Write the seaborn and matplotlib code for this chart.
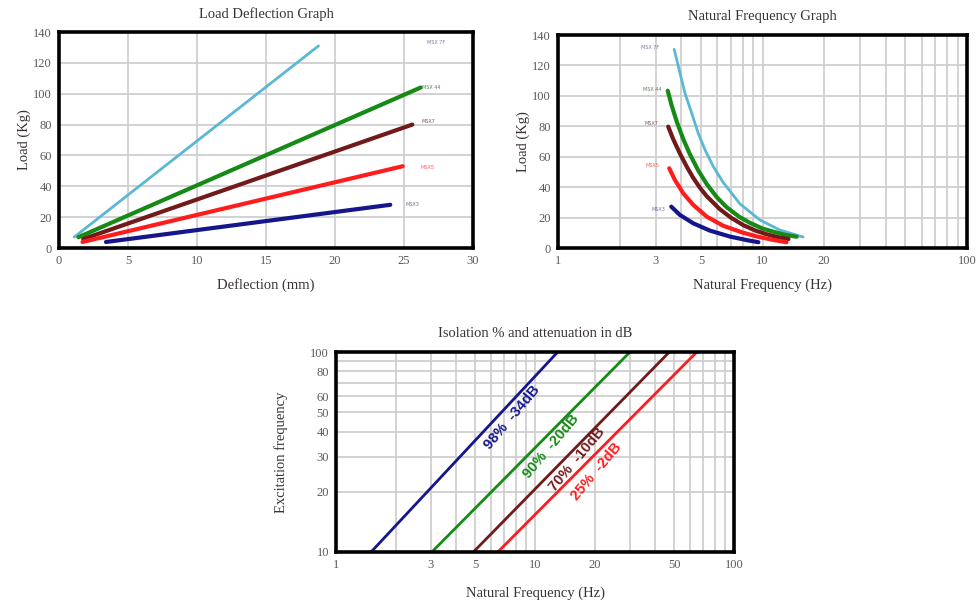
import numpy as np
import pandas as pd
import matplotlib
matplotlib.use("Agg")
import matplotlib.pyplot as plt
from matplotlib.ticker import FixedLocator, NullFormatter, LogLocator
import seaborn as sns

sns.set_theme(style="white")
plt.rcParams["font.family"] = ["Liberation Serif", "DejaVu Serif"]

# ---- series data -------------------------------------------------------
models = ["MSX 7F", "MSX 44", "MSX7", "MSX5", "MSX3"]
colors = ["#5bb8d4", "#168a16", "#721a1a", "#ff1c1c", "#16168c"]
label_colors = ["#6f7d9c", "#5d7d5d", "#7d5555", "#ff5a5a", "#6a7096"]
widths = [2.0, 3.0, 3.0, 3.0, 3.0]

# load vs deflection (start / end of each straight spring line)
deflection_mm = [[1.1, 18.8], [1.4, 26.2], [1.75, 25.6], [1.7, 24.9], [3.4, 24.0]]
load_kg = [[7.1, 131.0], [7.0, 104.0], [5.8, 80.0], [3.9, 53.0], [3.9, 28.0]]

# load vs natural frequency curves
nat_freq_hz = [
    [3.70, 3.95, 4.18, 4.51, 4.85, 5.24, 5.75, 6.43, 7.76, 9.72, 12.18, 15.8],
    [3.44, 3.60, 3.81, 4.10, 4.42, 4.85, 5.34, 5.97, 6.68, 7.70, 8.69, 10.0, 11.3, 13.0, 14.7],
    [3.46, 3.66, 3.95, 4.26, 4.59, 4.95, 5.34, 6.19, 7.00, 8.06, 9.30, 10.5, 12.0, 13.4],
    [3.50, 3.73, 4.10, 4.59, 5.34, 6.43, 8.06, 9.37, 11.2, 13.1],
    [3.58, 3.95, 4.59, 5.54, 6.94, 8.52, 9.55],
]
nat_load_kg = [
    [130.6, 114.9, 101.7, 88.5, 75.4, 64.4, 53.5, 43.0, 29.0, 18.4, 11.8, 7.2],
    [103.4, 93.5, 83.0, 71.5, 61.5, 51.0, 42.0, 33.5, 26.8, 20.5, 16.5, 12.8, 10.7, 8.6, 7.4],
    [79.8, 71.5, 62.0, 53.5, 46.0, 39.5, 34.0, 25.5, 20.0, 15.0, 11.3, 9.0, 7.0, 5.9],
    [52.4, 44.7, 35.9, 28.3, 20.6, 14.6, 10.0, 7.6, 5.4, 3.8],
    [27.2, 21.7, 16.2, 11.4, 7.5, 5.0, 3.8],
]

# isolation lines: natural frequency at excitation 10 Hz and 100 Hz
iso_labels = ["98%  -34dB", "90%  -20dB", "70%  -10dB", "25%  -2dB"]
iso_colors = ["#16168c", "#168a16", "#721a1a", "#ff1c1c"]
iso_fn = [[1.5, 13.0], [3.03, 30.0], [4.9, 47.3], [6.5, 65.0]]
iso_excitation = [10, 100]
iso_text_pos = [(7.7, 47.3), (12.1, 33.6), (16.2, 28.9), (20.4, 25.2)]

TEXT = "#3a3333"
TICK = "#5a5a5a"
GRID = "#cfcfcf"


def style_axes(ax):
    for sp in ax.spines.values():
        sp.set_visible(True)
        sp.set_color("black")
        sp.set_linewidth(2.6)
        sp.set_zorder(5)
    ax.tick_params(axis="both", which="both", length=0, labelsize=9,
                   labelcolor=TICK, pad=5)
    ax.set_facecolor("white")


fig = plt.figure(figsize=(9.76, 6.04), dpi=100)

# ---- Load Deflection Graph ---------------------------------------------
ax1 = fig.add_axes([0.0605, 0.5894, 0.4242, 0.3576])
for i, name in enumerate(models):
    df = pd.DataFrame({"Deflection": deflection_mm[i], "Load": load_kg[i]})
    sns.lineplot(data=df, x="Deflection", y="Load", ax=ax1, color=colors[i],
                 lw=widths[i], sort=False, zorder=3)
ax1.set_xlim(0, 30)
ax1.set_ylim(0, 140)
ax1.set_xticks(np.arange(0, 31, 5))
ax1.set_yticks(np.arange(0, 141, 20))
ax1.grid(True, color=GRID, lw=1.3)
ax1.set_axisbelow(True)
label_pos1 = [(27.3, 133), (27.0, 104), (26.8, 82), (26.7, 52), (25.6, 28)]
for (x, y), t, c in zip(label_pos1, models, label_colors):
    ax1.text(x, y, t, fontsize=3.5, color=c, ha="center", va="center",
             family="DejaVu Sans")
style_axes(ax1)
ax1.set_title("Load Deflection Graph", fontsize=10.5, color=TEXT, pad=10)
ax1.set_xlabel("Deflection (mm)", fontsize=10.5, color=TEXT, labelpad=8)
ax1.set_ylabel("Load (Kg)", fontsize=10.5, color=TEXT, labelpad=2)

# ---- Natural Frequency Graph -------------------------------------------
ax2 = fig.add_axes([0.5717, 0.5894, 0.4191, 0.3526])
for i, name in enumerate(models):
    df = pd.DataFrame({"Freq": nat_freq_hz[i], "Load": nat_load_kg[i]})
    sns.lineplot(data=df, x="Freq", y="Load", ax=ax2, color=colors[i],
                 lw=widths[i], zorder=3)
ax2.set_xscale("log")
ax2.set_xlim(1, 100)
ax2.set_ylim(0, 140)
ax2.xaxis.set_major_locator(FixedLocator([1, 3, 5, 10, 20, 100]))
ax2.xaxis.set_minor_locator(LogLocator(base=10, subs=np.arange(1, 10), numticks=20))
ax2.xaxis.set_minor_formatter(NullFormatter())
ax2.set_xticklabels(["1", "3", "5", "10", "20", "100"])
ax2.set_yticks(np.arange(0, 141, 20))
ax2.grid(True, which="both", color=GRID, lw=1.3)
ax2.set_axisbelow(True)
label_pos2 = [(2.82, 132), (2.9, 104.5), (2.87, 82), (2.9, 54), (3.1, 25)]
for (x, y), t, c in zip(label_pos2, models, label_colors):
    ax2.text(x, y, t, fontsize=3.5, color=c, ha="center", va="center",
             family="DejaVu Sans")
style_axes(ax2)
ax2.set_title("Natural Frequency Graph", fontsize=10.5, color=TEXT, pad=11)
ax2.set_xlabel("Natural Frequency (Hz)", fontsize=10.5, color=TEXT, labelpad=8)
ax2.set_ylabel("Load (Kg)", fontsize=10.5, color=TEXT, labelpad=2)

# ---- Isolation % and attenuation in dB ---------------------------------
ax3 = fig.add_axes([0.3443, 0.0861, 0.4078, 0.3311])
for i, lab in enumerate(iso_labels):
    df = pd.DataFrame({"fn": iso_fn[i], "fe": iso_excitation})
    sns.lineplot(data=df, x="fn", y="fe", ax=ax3, color=iso_colors[i],
                 lw=2.0, zorder=3)
    x, y = iso_text_pos[i]
    ax3.text(x, y, lab, rotation=50, rotation_mode="anchor", ha="center",
             va="center", fontsize=10.5, fontweight="bold", color=iso_colors[i],
             family="Liberation Sans", zorder=4)
ax3.set_xscale("log")
ax3.set_yscale("log")
ax3.set_xlim(1, 100)
ax3.set_ylim(10, 100)
ax3.xaxis.set_major_locator(FixedLocator([1, 3, 5, 10, 20, 50, 100]))
ax3.xaxis.set_minor_locator(LogLocator(base=10, subs=np.arange(1, 10), numticks=20))
ax3.xaxis.set_minor_formatter(NullFormatter())
ax3.set_xticklabels(["1", "3", "5", "10", "20", "50", "100"])
ax3.yaxis.set_major_locator(FixedLocator([10, 20, 30, 40, 50, 60, 80, 100]))
ax3.yaxis.set_minor_locator(LogLocator(base=10, subs=np.arange(1, 10), numticks=20))
ax3.yaxis.set_minor_formatter(NullFormatter())
ax3.set_yticklabels(["10", "20", "30", "40", "50", "60", "80", "100"])
ax3.grid(True, which="both", color=GRID, lw=1.3)
ax3.set_axisbelow(True)
style_axes(ax3)
ax3.set_title("Isolation % and attenuation in dB", fontsize=10.5, color=TEXT, pad=11)
ax3.set_xlabel("Natural Frequency (Hz)", fontsize=10.5, color=TEXT, labelpad=11)
ax3.set_ylabel("Excitation frequency", fontsize=10.5, color=TEXT, labelpad=16)

fig.savefig("out.png", dpi=100, facecolor="white")
